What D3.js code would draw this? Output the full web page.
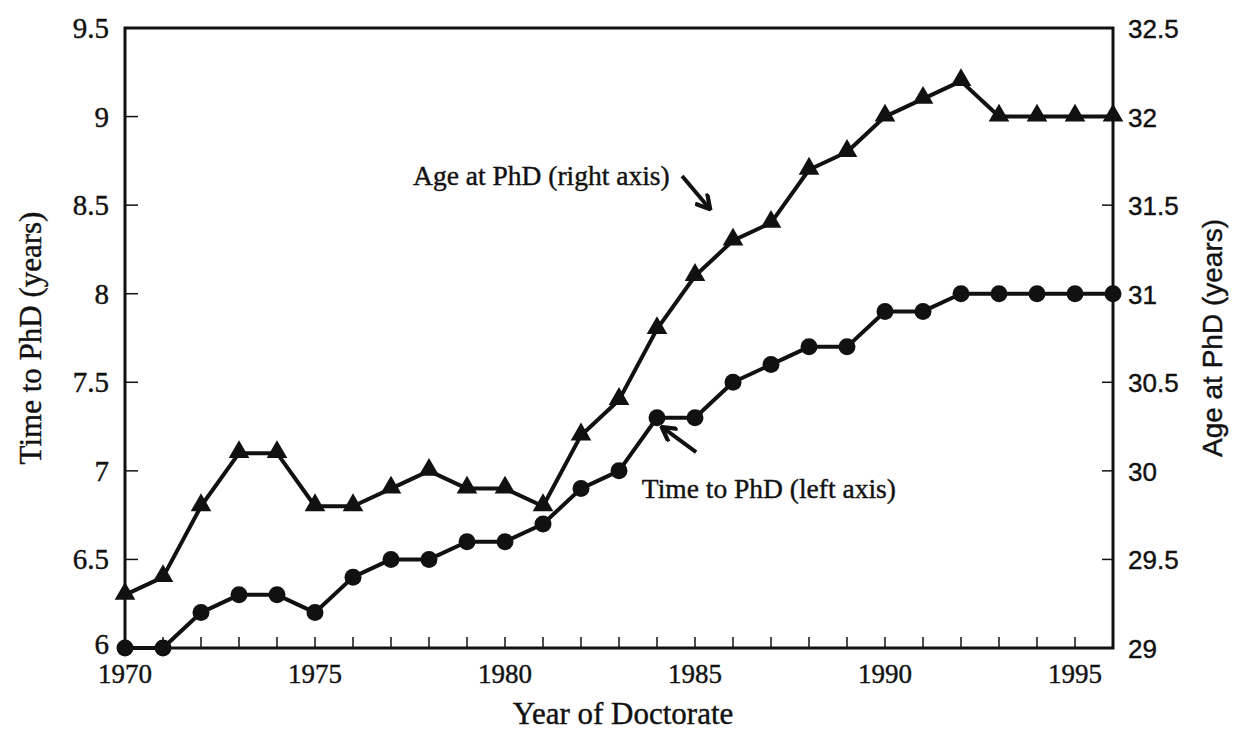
<!DOCTYPE html>
<html>
<head>
<meta charset="utf-8">
<script src="https://cdn.jsdelivr.net/npm/d3@7"></script>
<style>
  body { margin: 0; background: #fff; }
  text { fill: #111; stroke: #111; stroke-width: 0.4px; }
</style>
</head>
<body>
<script>
var years = d3.range(1970, 1997);
var timeToPhd = [6.0, 6.0, 6.2, 6.3, 6.3, 6.2, 6.4, 6.5, 6.5, 6.6, 6.6, 6.7, 6.9, 7.0,
                 7.3, 7.3, 7.5, 7.6, 7.7, 7.7, 7.9, 7.9, 8.0, 8.0, 8.0, 8.0, 8.0];
var ageAtPhd = [29.3, 29.4, 29.8, 30.1, 30.1, 29.8, 29.8, 29.9, 30.0, 29.9, 29.9, 29.8, 30.2, 30.4,
                30.8, 31.1, 31.3, 31.4, 31.7, 31.8, 32.0, 32.1, 32.2, 32.0, 32.0, 32.0, 32.0];
var xTickLabels = [1970, 1975, 1980, 1985, 1990, 1995];
var leftTicks = [6, 6.5, 7, 7.5, 8, 8.5, 9, 9.5];
var rightTicks = [29, 29.5, 30, 30.5, 31, 31.5, 32, 32.5];

var width = 1233, height = 731;
var margin = {top: 28, right: 120, bottom: 83, left: 125};

var svg = d3.select("body").append("svg")
    .attr("width", width)
    .attr("height", height);

var x = d3.scaleLinear().domain([1970, 1996]).range([margin.left, width - margin.right]);
var yL = d3.scaleLinear().domain([6, 9.5]).range([height - margin.bottom, margin.top]);
var yR = d3.scaleLinear().domain([29, 32.5]).range([height - margin.bottom, margin.top]);

var serif = "'Liberation Serif', 'Times New Roman', serif";
var sans = "'Liberation Sans', Arial, sans-serif";

// frame
svg.append("rect")
    .attr("x", margin.left).attr("y", margin.top)
    .attr("width", width - margin.left - margin.right)
    .attr("height", height - margin.top - margin.bottom)
    .style("fill", "none").style("stroke", "#111").style("stroke-width", "3px");

// x ticks (inward)
svg.append("g").selectAll("line").data(years).enter().append("line")
    .attr("x1", function(d) { return x(d); }).attr("x2", function(d) { return x(d); })
    .attr("y1", yL(6)).attr("y2", yL(6) - 11)
    .style("stroke", "#111").style("stroke-width", "1.5px");

svg.append("g").selectAll("text").data(xTickLabels).enter().append("text")
    .attr("x", function(d) { return x(d); })
    .attr("y", yL(6) + 35)
    .attr("text-anchor", "middle")
    .style("font-family", serif).style("font-size", "27px")
    .text(function(d) { return d; });

// left ticks
svg.append("g").selectAll("line").data(leftTicks.slice(1, -1)).enter().append("line")
    .attr("x1", x(1970)).attr("x2", x(1970) + 13)
    .attr("y1", function(d) { return yL(d); }).attr("y2", function(d) { return yL(d); })
    .style("stroke", "#111").style("stroke-width", "1.5px");

svg.append("g").selectAll("text").data(leftTicks).enter().append("text")
    .attr("x", x(1970) - 16)
    .attr("y", function(d) { return yL(d) + (d === 6 ? 6 : 10); })
    .attr("text-anchor", "end")
    .style("font-family", serif).style("font-size", "29px")
    .text(function(d) { return d; });

// right ticks
svg.append("g").selectAll("line").data(rightTicks.slice(1, -1)).enter().append("line")
    .attr("x1", x(1996)).attr("x2", x(1996) - 11)
    .attr("y1", function(d) { return yR(d); }).attr("y2", function(d) { return yR(d); })
    .style("stroke", "#111").style("stroke-width", "1.5px");

svg.append("g").selectAll("text").data(rightTicks).enter().append("text")
    .attr("x", x(1996) + 15)
    .attr("y", function(d) { return yR(d) + 10; })
    .attr("text-anchor", "start")
    .style("font-family", sans).style("font-size", "26px")
    .text(function(d) { return d; });

// axis titles
svg.append("text")
    .attr("transform", "translate(41," + ((margin.top + height - margin.bottom) / 2) + ") rotate(-90)")
    .attr("text-anchor", "middle")
    .style("font-family", serif).style("font-size", "31px")
    .text("Time to PhD (years)");

svg.append("text")
    .attr("transform", "translate(1222," + ((margin.top + height - margin.bottom) / 2) + ") rotate(-90)")
    .attr("text-anchor", "middle")
    .style("font-family", sans).style("font-size", "28px")
    .text("Age at PhD (years)");

svg.append("text")
    .attr("x", (x(1970) + x(1996)) / 2 + 4)
    .attr("y", 724)
    .attr("text-anchor", "middle")
    .style("font-family", serif).style("font-size", "31px")
    .text("Year of Doctorate");

// lines
var lineL = d3.line().x(function(d, i) { return x(years[i]); }).y(function(d) { return yL(d); });
var lineR = d3.line().x(function(d, i) { return x(years[i]); }).y(function(d) { return yR(d); });

svg.append("path").attr("d", lineR(ageAtPhd))
    .style("fill", "none").style("stroke", "#111").style("stroke-width", "4px")
    .style("stroke-linejoin", "round");
svg.append("path").attr("d", lineL(timeToPhd))
    .style("fill", "none").style("stroke", "#111").style("stroke-width", "4px")
    .style("stroke-linejoin", "round");

var tri = d3.symbol().type(d3.symbolTriangle).size(185);
svg.append("g").selectAll("path").data(ageAtPhd).enter().append("path")
    .attr("transform", function(d, i) { return "translate(" + x(years[i]) + "," + (yR(d) - 1) + ")"; })
    .attr("d", tri)
    .style("fill", "#111");

svg.append("g").selectAll("circle").data(timeToPhd).enter().append("circle")
    .attr("cx", function(d, i) { return x(years[i]); })
    .attr("cy", function(d) { return yL(d); })
    .attr("r", 8.5)
    .style("fill", "#111");

// annotations (positions in data units, left axis)
var notes = [
  {text: "Age at PhD (right axis)", tx: 1977.58, ty: 8.614, ax1: 1984.66, ay1: 8.665, ax2: 1985.37, ay2: 8.484},
  {text: "Time to PhD (left axis)", tx: 1983.6, ty: 6.847, ax1: 1985.03, ay1: 7.106, ax2: 1984.16, ay2: 7.242}
];

svg.append("defs").append("marker")
    .attr("id", "head")
    .attr("viewBox", "0 0 10 10")
    .attr("refX", 8).attr("refY", 5)
    .attr("markerWidth", 4.4).attr("markerHeight", 4.4)
    .attr("orient", "auto")
  .append("path")
    .attr("d", "M1,0.5L9,5L1,9.5")
    .style("fill", "none").style("stroke", "#111").style("stroke-width", "2.4px");

notes.forEach(function(n) {
  svg.append("text")
      .attr("x", x(n.tx)).attr("y", yL(n.ty))
      .style("font-family", serif).style("font-size", "27.5px")
      .text(n.text);
  svg.append("line")
      .attr("x1", x(n.ax1)).attr("y1", yL(n.ay1))
      .attr("x2", x(n.ax2)).attr("y2", yL(n.ay2))
      .attr("marker-end", "url(#head)")
      .style("stroke", "#111").style("stroke-width", "4px");
});
</script>
</body>
</html>
